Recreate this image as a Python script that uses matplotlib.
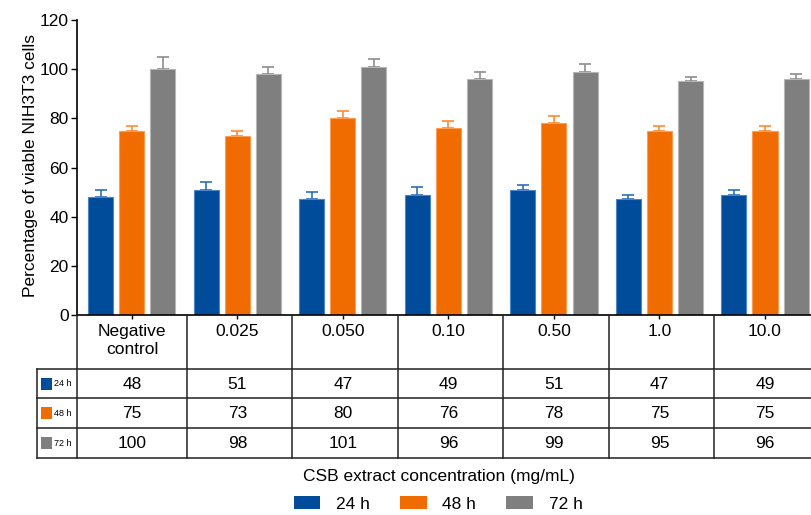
import matplotlib.pyplot as plt
from matplotlib.patches import Patch, Rectangle
import numpy as np

plt.rcParams['font.family'] = ['Liberation Sans', 'DejaVu Sans']

concentrations = ['Negative\ncontrol', '0.025', '0.050', '0.10', '0.50', '1.0', '10.0']
series = ['24 h', '48 h', '72 h']
viab_24h = [48, 51, 47, 49, 51, 47, 49]
viab_48h = [75, 73, 80, 76, 78, 75, 75]
viab_72h = [100, 98, 101, 96, 99, 95, 96]
err_24h = [3, 3, 3, 3, 2, 2, 2]
err_48h = [2, 2, 3, 3, 3, 2, 2]
err_72h = [5, 3, 3, 3, 3, 2, 2]

values = [viab_24h, viab_48h, viab_72h]
errors = [err_24h, err_48h, err_72h]
colors = ['#004c9b', '#f06c00', '#7f7f7f']
edges = ['#4a86c8', '#ff9d55', '#b5b5b5']
caps = ['#2f6fb8', '#ff8a33', '#8e8e8e']

W, H = 811, 515
fig = plt.figure(figsize=(W / 100, H / 100), dpi=100)

x0, x1 = -0.521, 6.436
ax_left = 77 / W
ax = fig.add_axes([ax_left, (H - 315) / H, 1 - ax_left, (315 - 20) / H])

x = np.arange(len(concentrations))
offs = [-0.294, 0.0, 0.294]
for vals, errs, c, ec, cc, off, name in zip(values, errors, colors, edges, caps, offs, series):
    ax.bar(x + off, vals, width=0.237, color=c, edgecolor=ec, linewidth=0.8, label=name, zorder=2)
    ax.errorbar(x + off, vals, yerr=[np.zeros(len(vals)), errs], fmt='none',
                ecolor=cc, elinewidth=1.2, capsize=4.2, capthick=1.2, zorder=1)

ax.set_xlim(x0, x1)
ax.set_ylim(0, 120)
ax.set_yticks(range(0, 121, 20))
ax.set_xticks(x)
ax.set_xticklabels([])
ax.tick_params(axis='y', labelsize=12.5, length=4, width=1, pad=2)
ax.tick_params(axis='x', length=3, width=1)
for s in ['top', 'right']:
    ax.spines[s].set_visible(False)
for s in ['left', 'bottom']:
    ax.spines[s].set_linewidth(1.2)
ax.set_ylabel('Percentage of viable NIH3T3 cells', fontsize=12.5)
ax.yaxis.set_label_coords((38 - 77) / (W - 77), 0.508)

# data table under the plot (y in pixel rows, inverted)
tab = fig.add_axes([ax_left, (H - 458) / H, 1 - ax_left, (458 - 315) / H])
tab.set_xlim(x0, x1)
tab.set_ylim(458, 315)
tab.axis('off')

rows = [315, 369, 398, 427.5, 458]
lab_left = -0.90
lc = '#222222'
lw = 1.1
tab.plot([x0, x0], [315, 458], color=lc, lw=lw, clip_on=False)
tab.plot([lab_left, lab_left], [369, 458], color=lc, lw=lw, clip_on=False)
for k in range(len(concentrations) - 1):
    tab.plot([k + 0.52, k + 0.52], [315, 458], color=lc, lw=lw, clip_on=False)
for r in rows[1:]:
    tab.plot([lab_left, x1 + 0.2], [r, r], color=lc, lw=lw, clip_on=False)

for i, name in enumerate(concentrations):
    tab.text(i, 324, name, ha='center', va='top', fontsize=12.5, linespacing=1.25)

for j, (vals, c, name) in enumerate(zip(values, colors, series)):
    yc = (rows[j + 1] + rows[j + 2]) / 2
    for i, v in enumerate(vals):
        tab.text(i, yc + 1, str(v), ha='center', va='center', fontsize=12.5)
    tab.add_patch(Rectangle((-0.866, yc - 6), 0.112, 12, facecolor=c,
                            edgecolor='none', clip_on=False))
    tab.text(-0.735, yc + 0.5, name, ha='left', va='center', fontsize=6.5)

fig.text(439 / W, (H - 476) / H, 'CSB extract concentration (mg/mL)',
         ha='center', va='center', fontsize=12.5)

handles = [Patch(facecolor=c, edgecolor='none') for c in colors]
fig.legend(handles, series, loc='center', bbox_to_anchor=(438 / W, 11 / H), ncol=3,
           frameon=False, fontsize=12.5, handlelength=1.55, handleheight=0.7,
           handletextpad=0.9, columnspacing=1.72, borderpad=0)

fig.savefig('out.png', dpi=100)
